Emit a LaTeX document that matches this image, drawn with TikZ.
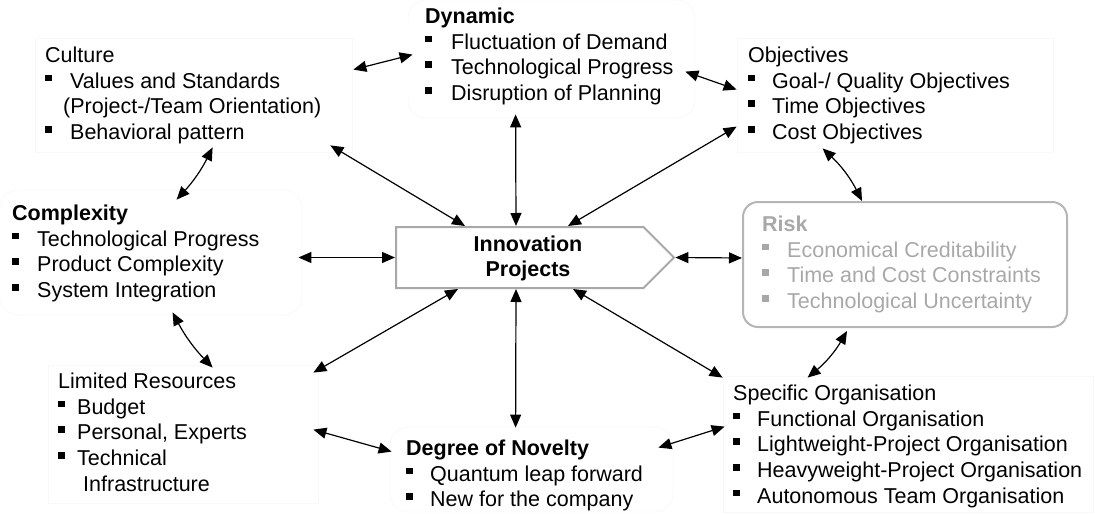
\documentclass[tikz,border=0pt]{standalone}
\usepackage{fontspec}
\setmainfont{Liberation Sans}
\usetikzlibrary{arrows.meta,calc,shapes.symbols}
\definecolor{riskgray}{HTML}{A8A8A8}
\definecolor{faintline}{HTML}{F8F8F8}
\newcommand\bul[1][25pt]{\makebox[#1][l]{\raisebox{7pt}{\rule{6.5pt}{6.5pt}}}}
\begin{document}
\begin{tikzpicture}[x=1pt,y=-1pt,
  font=\fontsize{21.5}{25.7}\selectfont,
  faint/.style={draw=faintline,line width=0.8pt,inner sep=0pt},
  faintround/.style={faint,rounded corners=18pt},
  txt/.style={anchor=north west,inner sep=0pt,align=left,execute at begin node=\strut},
  link/.style={{Triangle[length=13pt,width=11pt]}-{Triangle[length=13pt,width=11pt]},line width=1.2pt},
  innobox/.style={draw=riskgray,line width=2pt,signal,signal to=east,signal from=nowhere,
    signal pointer angle=90,minimum width=278pt,minimum height=61pt,inner sep=0pt},
  riskbox/.style={draw=riskgray!85,line width=2pt,rounded corners=15pt,inner sep=0pt}]
\useasboundingbox (0,0) rectangle (1095,514);

% boxes
\node[faint,minimum width=317pt,minimum height=114pt] (culture) at (193.5,95) {};
\node[faintround,minimum width=287pt,minimum height=118pt] (dynamic) at (551.5,59) {};
\node[faint,minimum width=316pt,minimum height=114pt] (objectives) at (895,95) {};
\node[faintround,minimum width=302pt,minimum height=125pt] (complexity) at (151,252.5) {};
\node[faint,minimum width=270pt,minimum height=138pt] (limited) at (183,434) {};
\node[faintround,minimum width=283pt,minimum height=85pt] (novelty) at (531.5,469.5) {};
\node[faint,minimum width=370pt,minimum height=136pt] (specific) at (908,444) {};
\node[riskbox,minimum width=324pt,minimum height=125pt] (risk) at (905,264.5) {};
\node[innobox,anchor=west] (inno) at (395,257.5) {};

% texts
\node[txt] (culturetext) at (45,46.7) {Culture\\\bul Values and Standards\\\hspace*{18pt}(Project-/Team Orientation)\\\bul Behavioral pattern};
\node[txt] (dynamictext) at (425,7.7) {\textbf{Dynamic}\\\bul[26pt]Fluctuation of Demand\\\bul[26pt]Technological Progress\\\bul[26pt]Disruption of Planning};
\node[txt] (objectivestext) at (748,46.7) {Objectives\\\bul[24pt]Goal-/ Quality Objectives\\\bul[24pt]Time Objectives\\\bul[24pt]Cost Objectives};
\node[txt] (complexitytext) at (12,204.7) {\textbf{Complexity}\\\bul Technological Progress\\\bul Product Complexity\\\bul System Integration};
\node[txt,text=riskgray] (risktext) at (762,215.7) {\textbf{Risk}\\\bul Economical Creditability\\\bul Time and Cost Constraints\\\bul Technological Uncertainty};
\node[txt] (limitedtext) at (58,372.7) {Limited Resources\\\bul[19pt]Budget\\\bul[19pt]Personal, Experts\\\bul[19pt]Technical\\\hspace*{25pt}Infrastructure};
\node[txt] (noveltytext) at (406,439.7) {\textbf{Degree of Novelty}\\\bul[24pt]Quantum leap forward\\\bul[24pt]New for the company};
\node[txt] (specifictext) at (733,384.7) {Specific Organisation\\\bul[24pt]Functional Organisation\\\bul[24pt]Lightweight-Project Organisation\\\bul[24pt]Heavyweight-Project Organisation\\\bul[24pt]Autonomous Team Organisation};
\node[inner sep=0pt,align=center,font=\fontsize{21.5}{25}\selectfont\bfseries] (innotext) at (528,258) {Innovation\\Projects};

% connectors
\draw[link] ($(culture.north east)+(1,32)$) -- ($(dynamic.north west)+(5,55)$);
\draw[link] ($(dynamic.north east)+(-10,72)$) -- ($(objectives.north west)+(0,52)$);
\draw[link] ($(culture.south west)+(178,-5)$) to[bend left=8] ($(complexity.north west)+(177,10)$);
\draw[link] ($(culture.south east)+(-22,-7)$) -- ($(inno.west)+(70,-31.5)$);
\draw[link] ($(dynamic.south west)+(108,-4)$) -- ($(inno.west)+(121,-31.5)$);
\draw[link] ($(objectives.north west)+(0,89)$) -- ($(inno.west)+(173,-31.5)$);
\draw[link] ($(objectives.south west)+(86,-4)$) to[bend left=10] ($(risk.north west)+(120,0)$);
\draw[link] ($(complexity.east)+(-4,5)$) -- (inno.west);
\draw[link] (inno.east) -- ($(risk.west)+(0,-6.5)$);
\draw[link] ($(complexity.south west)+(173,-3)$) to[bend right=8] ($(limited.north west)+(165,3)$);
\draw[link] ($(limited.north east)+(-5,8)$) -- ($(inno.west)+(63,31.5)$);
\draw[link] ($(inno.west)+(121,31.5)$) -- ($(novelty.north west)+(126,1)$);
\draw[link] ($(inno.west)+(178,31.5)$) -- ($(specific.north west)+(0,2)$);
\draw[link] ($(limited.north east)+(-5,65)$) -- ($(novelty.north west)+(2,25)$);
\draw[link] ($(novelty.north east)+(-15,21)$) -- ($(specific.north west)+(2,51)$);
\draw[link] ($(risk.south west)+(105,3)$) to[bend left=10] ($(specific.north west)+(85,2)$);
\end{tikzpicture}
\end{document}
